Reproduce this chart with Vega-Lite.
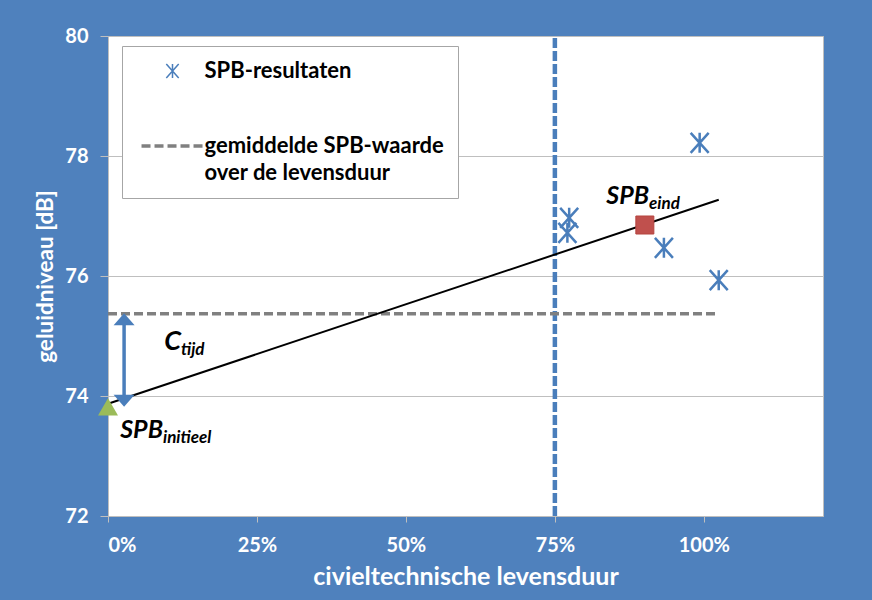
{
  "$schema": "https://vega.github.io/schema/vega-lite/v6.json",
  "width": 715,
  "height": 480,
  "autosize": {"type": "none"},
  "padding": {"left": 108, "top": 36, "right": 49, "bottom": 84},
  "background": "#4f81bd",
  "config": {
    "font": "Lato",
    "view": {"fill": "white", "stroke": "#bfbfbf", "strokeWidth": 1},
    "axis": {
      "labelColor": "white",
      "labelFont": "Lato",
      "labelFontWeight": "bold",
      "labelFontSize": 20,
      "titleColor": "white",
      "titleFont": "Lato",
      "titleFontWeight": "bold",
      "domain": false,
      "tickColor": "#bfbfbf",
      "gridColor": "#bfbfbf",
      "gridWidth": 1
    }
  },
  "encoding": {
    "x": {
      "field": "x",
      "type": "quantitative",
      "scale": {"domain": [0, 1.2], "nice": false, "zero": false},
      "axis": {
        "title": "civieltechnische levensduur",
        "titleFontSize": 25,
        "values": [0, 0.25, 0.5, 0.75, 1],
        "format": ".0%",
        "grid": false,
        "tickSize": 6,
        "labelPadding": 13,
        "titlePadding": 9
      }
    },
    "y": {
      "field": "y",
      "type": "quantitative",
      "scale": {"domain": [72, 80], "nice": false, "zero": false},
      "axis": {
        "title": "geluidniveau [dB]",
        "titleFontSize": 22.5,
        "values": [72, 74, 76, 78, 80],
        "grid": true,
        "tickSize": 8,
        "labelPadding": 12,
        "titlePadding": 7
      }
    }
  },
  "datasets": {
    "results": [
      {"x": 0.774, "y": 76.97, "series": "SPB-resultaten"},
      {"x": 0.771, "y": 76.72, "series": "SPB-resultaten"},
      {"x": 0.993, "y": 78.22, "series": "SPB-resultaten"},
      {"x": 0.933, "y": 76.47, "series": "SPB-resultaten"},
      {"x": 1.025, "y": 75.93, "series": "SPB-resultaten"}
    ],
    "labels": [
      {"x": 0.908, "y": 77.2, "main": "SPB", "sub": "eind"},
      {"x": 0.0923, "y": 73.3, "main": "SPB", "sub": "initieel"},
      {"x": 0.1225, "y": 74.77, "main": "C", "sub": "tijd"}
    ]
  },
  "layer": [
    {
      "data": {"values": [{"x": 0.75, "y": 72, "y2": 80}]},
      "mark": {"type": "rule", "stroke": "#4a7ebb", "strokeWidth": 4.5, "strokeDash": [10, 3]},
      "encoding": {"y2": {"field": "y2"}}
    },
    {
      "data": {"values": [{"x": 0, "x2": 1.025, "y": 75.37, "series": "gemiddelde SPB-waarde over de levensduur"}]},
      "mark": {"type": "rule", "strokeWidth": 3.5, "strokeDash": [9, 4]},
      "encoding": {
        "x2": {"field": "x2"},
        "color": {
          "field": "series",
          "type": "nominal",
          "scale": {
            "domain": ["SPB-resultaten", "gemiddelde SPB-waarde over de levensduur"],
            "range": ["#4a7ebb", "#808080"]
          },
          "legend": {
            "orient": "none",
            "legendX": 14,
            "legendY": 10,
            "title": null,
            "fillColor": "white",
            "strokeColor": "#a6a6a6",
            "padding": 14,
            "labelFont": "Lato",
            "labelFontSize": 22,
            "labelFontWeight": "bold",
            "labelColor": "black",
            "labelLimit": 400,
            "symbolSize": 240,
            "symbolStrokeWidth": 3,
            "symbolOffset": 25.5,
            "labelOffset": 21,
            "rowPadding": 53,
            "labelExpr": "datum.label === 'SPB-resultaten' ? datum.label : ['gemiddelde SPB-waarde', 'over de levensduur']",
            "encode": {
              "symbols": {
                "update": {
                  "shape": {"signal": "datum.value === 'SPB-resultaten' ? 'M0,-0.9L0,0.9M-0.8,-0.9L0.8,0.9M-0.8,0.9L0.8,-0.9' : 'M-4,0L4,0'"},
                  "stroke": {"signal": "datum.value === 'SPB-resultaten' ? '#7da4d8' : '#808080'"},
                  "strokeWidth": {"signal": "datum.value === 'SPB-resultaten' ? 1.5 : 3.5"},
                  "strokeDash": {"signal": "datum.value === 'SPB-resultaten' ? [100, 0] : [9, 4]"},
                  "fill": {"value": "transparent"},
                  "opacity": {"value": 1}
                }
              },
              "labels": {"update": {"lineHeight": {"value": 26.5}}}
            }
          }
        }
      }
    },
    {
      "data": {"values": [{"x": 0, "y": 73.87}, {"x": 1.025, "y": 77.27}]},
      "mark": {"type": "line", "color": "black", "strokeWidth": 2}
    },
    {
      "data": {"name": "results"},
      "mark": {
        "type": "point",
        "shape": "M0,-1L0,1M-0.9,-1L0.9,1M-0.9,1L0.9,-1",
        "filled": false,
        "size": 400,
        "strokeWidth": 2.5,
        "opacity": 1
      },
      "encoding": {"color": {"field": "series", "type": "nominal"}}
    },
    {
      "data": {"values": [{"x": 0.027, "y": 73.92, "y2": 75.28}]},
      "mark": {"type": "rule", "stroke": "#4a7ebb", "strokeWidth": 3.5},
      "encoding": {"y2": {"field": "y2"}}
    },
    {
      "data": {"values": [{"x": 0.027, "y": 75.38, "dir": "up"}, {"x": 0.027, "y": 73.82, "dir": "down"}]},
      "mark": {"type": "point", "filled": true, "size": 441, "opacity": 1, "color": "#4a7ebb"},
      "encoding": {
        "shape": {
          "field": "dir",
          "type": "nominal",
          "scale": {"domain": ["up", "down"], "range": ["M0,0L1,1.14L-1,1.14Z", "M0,0L1,-1.14L-1,-1.14Z"]},
          "legend": null
        }
      }
    },
    {
      "data": {"values": [{"x": 0, "y": 73.82}]},
      "mark": {"type": "point", "shape": "triangle-up", "filled": true, "size": 400, "opacity": 1, "color": "#9bbb59"}
    },
    {
      "data": {"values": [{"x": 0.901, "y": 76.85}]},
      "mark": {"type": "point", "shape": "square", "filled": true, "size": 324, "opacity": 1, "color": "#c0504d", "stroke": "#b5443f", "strokeWidth": 1}
    },
    {
      "data": {"name": "labels"},
      "transform": [{"filter": "datum.main === 'SPB'"}],
      "mark": {"type": "text", "align": "right", "baseline": "alphabetic", "font": "Lato", "fontStyle": "italic", "fontWeight": "bold", "fontSize": 25, "color": "black"},
      "encoding": {"text": {"field": "main"}}
    },
    {
      "data": {"name": "labels"},
      "transform": [{"filter": "datum.main === 'C'"}],
      "mark": {"type": "text", "align": "right", "baseline": "alphabetic", "font": "Lato", "fontStyle": "italic", "fontWeight": "bold", "fontSize": 27, "color": "black"},
      "encoding": {"text": {"field": "main"}}
    },
    {
      "data": {"name": "labels"},
      "mark": {"type": "text", "align": "left", "baseline": "alphabetic", "dy": 5, "font": "Lato", "fontStyle": "italic", "fontWeight": "bold", "fontSize": 17, "color": "black"},
      "encoding": {"text": {"field": "sub"}}
    }
  ]
}
